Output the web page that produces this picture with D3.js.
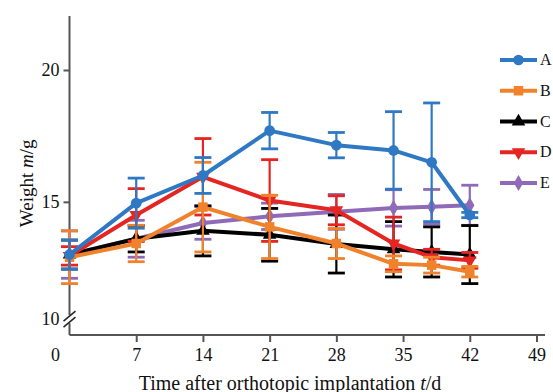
<!DOCTYPE html>
<html>
<head>
<meta charset="utf-8">
<script src="https://cdn.jsdelivr.net/npm/d3@7"></script>
<style>
  body { margin: 0; background: #fff; }
  text { font-family: "Liberation Serif", "Times New Roman", serif; fill: #111; }
</style>
</head>
<body>
<div id="container"></div>
<script>
// days after implantation
const days = [0, 7, 14, 21, 28, 34, 38, 42];
const xTicks = [7, 14, 21, 28, 35, 42, 49];
const yTicks = [15, 20];

// mean weight (g) and error per group
const meanA = [13.0, 14.95, 16.0, 17.7, 17.15, 16.95, 16.5, 14.5];
const errA  = [0.55, 0.95, 0.68, 0.69, 0.48, 1.47, 2.25, 0.1];
const meanB = [12.9, 13.42, 14.8, 14.05, 13.42, 12.65, 12.6, 12.35];
const errB  = [1.0, 0.69, 1.7, 1.2, 0.57, 0.3, 0.3, 0.2];
const meanC = [13.0, 13.6, 13.9, 13.75, 13.4, 13.2, 13.1, 13.0];
const errC  = [0.55, 0.5, 0.95, 1.0, 1.1, 1.05, 0.95, 1.1];
const meanD = [12.95, 14.5, 15.95, 15.05, 14.68, 13.42, 12.9, 12.78];
const errD  = [0.35, 1.0, 1.45, 1.55, 0.55, 1.0, 0.3, 0.3];
const meanE = [13.0, 13.6, 14.2, 14.45, 14.62, 14.77, 14.81, 14.87];
const errE  = [0.9, 0.7, 0.62, 0.5, 0.66, 0.69, 0.66, 0.76];

const groups = [
  { name: "A", mean: meanA, err: errA, color: "#2f78c4", symbol: d3.symbolCircle, size: 90, rot: 0 },
  { name: "B", mean: meanB, err: errB, color: "#f0822c", symbol: d3.symbolSquare, size: 90, rot: 0 },
  { name: "C", mean: meanC, err: errC, color: "#000000", symbol: d3.symbolTriangle, size: 80, rot: 0 },
  { name: "D", mean: meanD, err: errD, color: "#e52521", symbol: d3.symbolTriangle, size: 80, rot: 180 },
  { name: "E", mean: meanE, err: errE, color: "#8e6ab8", symbol: d3.symbolDiamond, size: 75, rot: 0 }
];
const drawOrder = ["E", "C", "D", "B", "A"];

const width = 553, height = 392;
const svg = d3.select("#container").append("svg")
  .attr("width", width).attr("height", height);

const x = d3.scaleLinear().domain([0, 49]).range([69.5, 536.5]);
const y = d3.scaleLinear().domain([9.95, 20]).range([335, 70]);
const axisColor = "#555";

// axes lines
svg.append("line")
  .attr("x1", x(0)).attr("x2", 545)
  .attr("y1", y(9.95)).attr("y2", y(9.95))
  .attr("stroke", axisColor).attr("stroke-width", 2);
svg.append("line")
  .attr("x1", x(0)).attr("x2", x(0))
  .attr("y1", y(22.05)).attr("y2", y(9.95))
  .attr("stroke", axisColor).attr("stroke-width", 2);

// x axis ticks
const xAxis = d3.axisBottom(x).tickValues(xTicks).tickSize(7).tickPadding(6);
const gx = svg.append("g").attr("transform", `translate(0,${y(9.95)})`).call(xAxis);
gx.select(".domain").remove();
gx.selectAll("line").attr("stroke", axisColor).attr("stroke-width", 2);
gx.selectAll("text").attr("font-size", 18).attr("fill", "#111")
  .style("font-family", "Liberation Serif");
svg.append("text").attr("x", x(0) - 14).attr("y", y(9.95) + 13).attr("dy", "0.71em")
  .attr("text-anchor", "middle").attr("font-size", 18).text("0");

// y axis ticks
const yAxis = d3.axisLeft(y).tickValues(yTicks).tickSize(6).tickPadding(4);
const gy = svg.append("g").attr("transform", `translate(${x(0)},0)`).call(yAxis);
gy.select(".domain").remove();
gy.selectAll("line").attr("stroke", axisColor).attr("stroke-width", 2);
gy.selectAll("text").attr("font-size", 18).attr("fill", "#111")
  .style("font-family", "Liberation Serif");

// axis break and "10" label
const yb = y(10.55);
svg.append("rect").attr("x", x(0) - 3).attr("y", yb - 4).attr("width", 6).attr("height", 8).attr("fill", "#fff");
[-3, 3].forEach(o => {
  svg.append("line")
    .attr("x1", x(0) - 6).attr("x2", x(0) + 6)
    .attr("y1", yb + o + 5).attr("y2", yb + o - 5)
    .attr("stroke", "#222").attr("stroke-width", 1.5);
});
svg.append("text").attr("x", x(0) - 10).attr("y", yb + 6)
  .attr("text-anchor", "end").attr("font-size", 18).text("10");

// axis titles
svg.append("text")
  .attr("transform", `translate(33,${y(15.7)}) rotate(-90)`)
  .attr("text-anchor", "middle").attr("font-size", 19)
  .html('Weight <tspan font-style="italic">m</tspan>/g');
svg.append("text")
  .attr("x", 290).attr("y", 390)
  .attr("text-anchor", "middle").attr("font-size", 20)
  .html('Time after orthotopic implantation <tspan font-style="italic">t</tspan>/d');

// series
const line = d3.line().x(d => x(d.day)).y(d => y(d.v));
const capW = 8.5;

drawOrder.forEach(name => {
  const g = groups.find(s => s.name === name);
  const pts = days.map((d, i) => ({ day: d, v: g.mean[i], e: g.err[i] }));
  const layer = svg.append("g");

  // error bars
  const eb = layer.selectAll(".eb").data(pts).enter().append("g");
  eb.append("line")
    .attr("x1", d => x(d.day)).attr("x2", d => x(d.day))
    .attr("y1", d => y(d.v + d.e)).attr("y2", d => y(d.v - d.e))
    .attr("stroke", g.color).attr("stroke-width", 2.2);
  eb.append("line")
    .attr("x1", d => x(d.day) - capW).attr("x2", d => x(d.day) + capW)
    .attr("y1", d => y(d.v + d.e)).attr("y2", d => y(d.v + d.e))
    .attr("stroke", g.color).attr("stroke-width", 2.8);
  eb.append("line")
    .attr("x1", d => x(d.day) - capW).attr("x2", d => x(d.day) + capW)
    .attr("y1", d => y(d.v - d.e)).attr("y2", d => y(d.v - d.e))
    .attr("stroke", g.color).attr("stroke-width", 2.8);

  layer.append("path").datum(pts)
    .attr("d", line).attr("fill", "none")
    .attr("stroke", g.color).attr("stroke-width", 4)
    .attr("stroke-linejoin", "round");

  layer.selectAll(".pt").data(pts).enter().append("path")
    .attr("d", d3.symbol().type(g.symbol).size(g.size))
    .attr("transform", d => `translate(${x(d.day)},${y(d.v)}) rotate(${g.rot})`)
    .attr("fill", g.color);
});

// legend
const legend = svg.append("g");
const legY = d3.scaleLinear().domain([0, 4]).range([60, 183]);
groups.forEach((g, i) => {
  const ly = legY(i);
  legend.append("line")
    .attr("x1", 500).attr("x2", 537).attr("y1", ly).attr("y2", ly)
    .attr("stroke", g.color).attr("stroke-width", 4);
  legend.append("path")
    .attr("d", d3.symbol().type(g.symbol).size(g.size))
    .attr("transform", `translate(518.5,${ly}) rotate(${g.rot})`)
    .attr("fill", g.color);
  legend.append("text")
    .attr("x", 540).attr("y", ly + 5)
    .attr("font-size", 16).text(g.name);
});
</script>
</body>
</html>
